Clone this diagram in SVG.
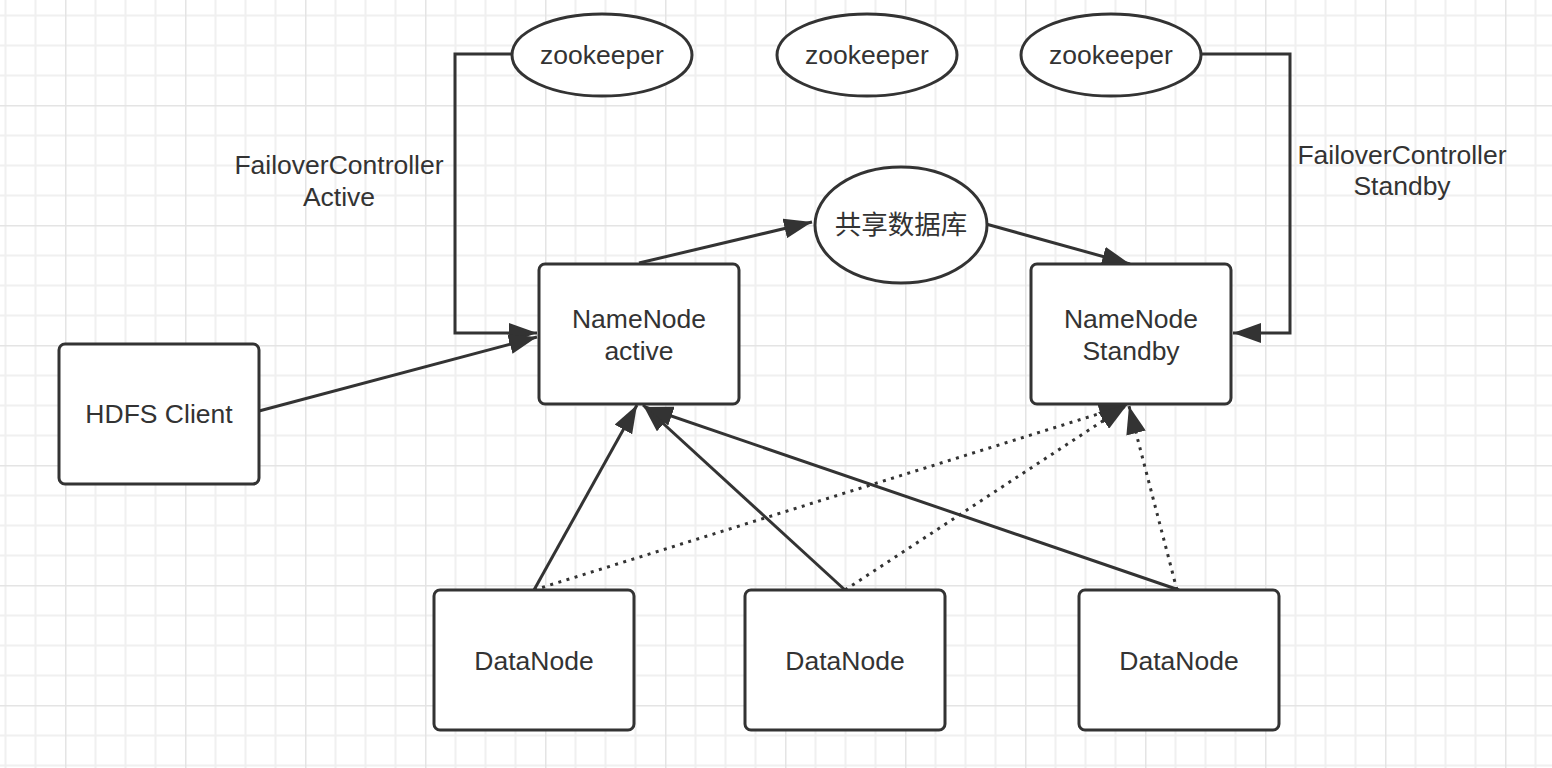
<svg xmlns="http://www.w3.org/2000/svg" width="1552" height="768" viewBox="0 0 1552 768">
<defs>
<pattern id="grid" patternUnits="userSpaceOnUse" x="65" y="105" width="120" height="120">
<path d="M30.5 0V120M60.5 0V120M90.5 0V120M0 30.5H120M0 60.5H120M0 90.5H120" stroke="#f0f0f0" stroke-width="2" fill="none"/>
<path d="M0.5 0V120M0 0.5H120" stroke="#e4e4e4" stroke-width="2" fill="none"/>
</pattern>
<marker id="arr" markerUnits="userSpaceOnUse" markerWidth="28" markerHeight="20" refX="28" refY="10" orient="auto" viewBox="0 0 28 20">
<path d="M0 0L28 10L0 20Z" fill="#333"/>
</marker>
<style>
.box{fill:#fff;stroke:#333;stroke-width:3}
.t{font-family:"Liberation Sans","Noto Sans CJK SC",sans-serif;font-size:26.5px;fill:#333;text-anchor:middle}
.c{fill:none;stroke:#333;stroke-width:3;marker-end:url(#arr)}
.d{stroke-dasharray:3 5.5}
</style>
</defs>
<rect width="1552" height="768" fill="#fff"/>
<rect width="1552" height="768" fill="url(#grid)"/>
<g id="connectors">
<path class="c" d="M512 54H455V333H537"/>
<path class="c" d="M1201 54H1290V333H1233"/>
<path class="c" d="M259 411L537 337"/>
<path class="c" d="M639 263L812 222"/>
<path class="c" d="M986 224L1130 264"/>
<path class="c" d="M534 590L637 405"/>
<path class="c" d="M845 590L643 405"/>
<path class="c" d="M1179 590L645 407"/>
<path class="c d" d="M534 590L1127 405"/>
<path class="c d" d="M845 590L1127 405"/>
<path class="c d" d="M1177 590L1129 406"/>
</g>
<g id="zk1"><ellipse class="box" cx="602" cy="55" rx="90" ry="41"/><text class="t" x="602" y="64">zookeeper</text></g>
<g id="zk2"><ellipse class="box" cx="867" cy="55" rx="90" ry="41"/><text class="t" x="867" y="64">zookeeper</text></g>
<g id="zk3"><ellipse class="box" cx="1111" cy="55" rx="90" ry="41"/><text class="t" x="1111" y="64">zookeeper</text></g>
<g id="shareddb"><ellipse class="box" cx="901" cy="225" rx="86" ry="58"/><text class="t" x="901" y="234">共享数据库</text></g>
<g id="fc-active"><text class="t" x="339" y="174">FailoverController</text><text class="t" x="339" y="206">Active</text></g>
<g id="fc-standby"><text class="t" x="1402" y="164">FailoverController</text><text class="t" x="1402" y="195">Standby</text></g>
<g id="nn-active"><rect class="box" x="539" y="264" width="200" height="140" rx="6"/><text class="t" x="639" y="328">NameNode</text><text class="t" x="639" y="360">active</text></g>
<g id="nn-standby"><rect class="box" x="1031" y="264" width="200" height="140" rx="6"/><text class="t" x="1131" y="328">NameNode</text><text class="t" x="1131" y="360">Standby</text></g>
<g id="hdfs-client"><rect class="box" x="59" y="344" width="200" height="140" rx="6"/><text class="t" x="159" y="423">HDFS Client</text></g>
<g id="dn1"><rect class="box" x="434" y="590" width="200" height="140" rx="6"/><text class="t" x="534" y="670">DataNode</text></g>
<g id="dn2"><rect class="box" x="745" y="590" width="200" height="140" rx="6"/><text class="t" x="845" y="670">DataNode</text></g>
<g id="dn3"><rect class="box" x="1079" y="590" width="200" height="140" rx="6"/><text class="t" x="1179" y="670">DataNode</text></g>
</svg>
